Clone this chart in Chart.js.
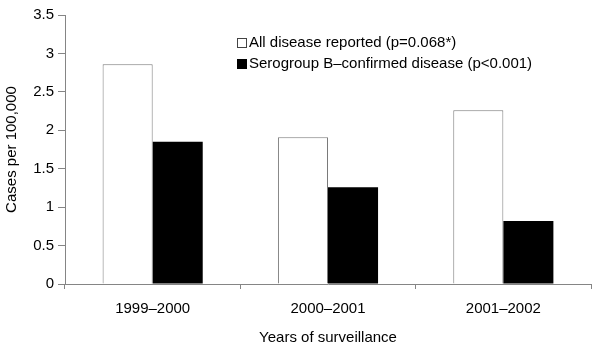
<!DOCTYPE html>
<html>
<head>
<meta charset="utf-8">
<script src="https://cdn.jsdelivr.net/npm/chart.js@4/dist/chart.umd.min.js"></script>
<style>
  html, body { margin: 0; padding: 0; background: #fff; }
  #wrap { width: 600px; height: 350px; }
</style>
</head>
<body>
<div id="wrap"><canvas id="chart"></canvas></div>
<script>
const categories = ["1999–2000", "2000–2001", "2001–2002"];
const allDisease = [2.86, 1.91, 2.26];
const serogroupB = [1.85, 1.26, 0.82];
const seriesLabels = ["All disease reported (p=0.068*)", "Serogroup B–confirmed disease (p<0.001)"];
const yTicks = [0, 0.5, 1, 1.5, 2, 2.5, 3, 3.5];

const font = { family: "'Liberation Sans', Arial, sans-serif", size: 15 };
const axisGray = "#858585";

// legend drawn inside the plot, top right
const insideLegend = {
    id: "insideLegend",
    afterDraw(chart) {
        const c = chart.ctx;
        const x = chart.chartArea.left + 172;
        const rows = [chart.chartArea.top + 28, chart.chartArea.top + 49];
        c.save();
        c.font = "15px " + font.family;
        c.textBaseline = "middle";
        chart.data.datasets.forEach((ds, i) => {
            const y = rows[i];
            c.fillStyle = ds.backgroundColor;
            c.fillRect(x, y - 5, 10, 10);
            c.strokeStyle = i === 0 ? "#444" : "#000";
            c.lineWidth = 1;
            c.strokeRect(x + 0.5, y - 4.5, 9, 9);
            c.fillStyle = "#000";
            c.fillText(ds.label, x + 12, y);
        });
        c.restore();
    }
};

new Chart(document.getElementById("chart"), {
    type: "bar",
    data: {
        labels: categories,
        datasets: [
            {
                label: seriesLabels[0],
                data: allDisease,
                backgroundColor: "#ffffff",
                borderColor: "#7a7a7a",
                borderWidth: 1,
                borderSkipped: "bottom"
            },
            {
                label: seriesLabels[1],
                data: serogroupB,
                backgroundColor: "#000000",
                borderWidth: 0
            }
        ]
    },
    options: {
        responsive: true,
        maintainAspectRatio: false,
        animation: false,
        datasets: {
            bar: { categoryPercentage: 0.571, barPercentage: 1 }
        },
        layout: { padding: { top: 15, right: 9, bottom: 0, left: 0 } },
        plugins: {
            legend: { display: false },
            tooltip: { enabled: false }
        },
        scales: {
            x: {
                grid: { drawOnChartArea: false, color: axisGray, tickLength: 5, offset: true },
                border: { color: axisGray, width: 1 },
                ticks: { color: "#000", font: font, padding: 11, maxRotation: 0 },
                title: { display: true, text: "Years of surveillance", color: "#000", font: font, padding: { top: 4, bottom: 3 } },
                afterFit(scale) { scale.height = 66; }
            },
            y: {
                min: 0,
                max: 3.5,
                afterBuildTicks(scale) { scale.ticks = yTicks.map(v => ({ value: v })); },
                grid: { drawOnChartArea: false, color: axisGray, tickLength: 7 },
                border: { color: axisGray, width: 1 },
                ticks: { color: "#000", font: font, padding: 4, callback: v => String(v) },
                title: { display: true, text: "Cases per 100,000", color: "#000", font: font, padding: { top: 3, bottom: 6 } },
                afterFit(scale) { scale.width = 65; }
            }
        }
    },
    plugins: [insideLegend]
});
</script>
</body>
</html>
